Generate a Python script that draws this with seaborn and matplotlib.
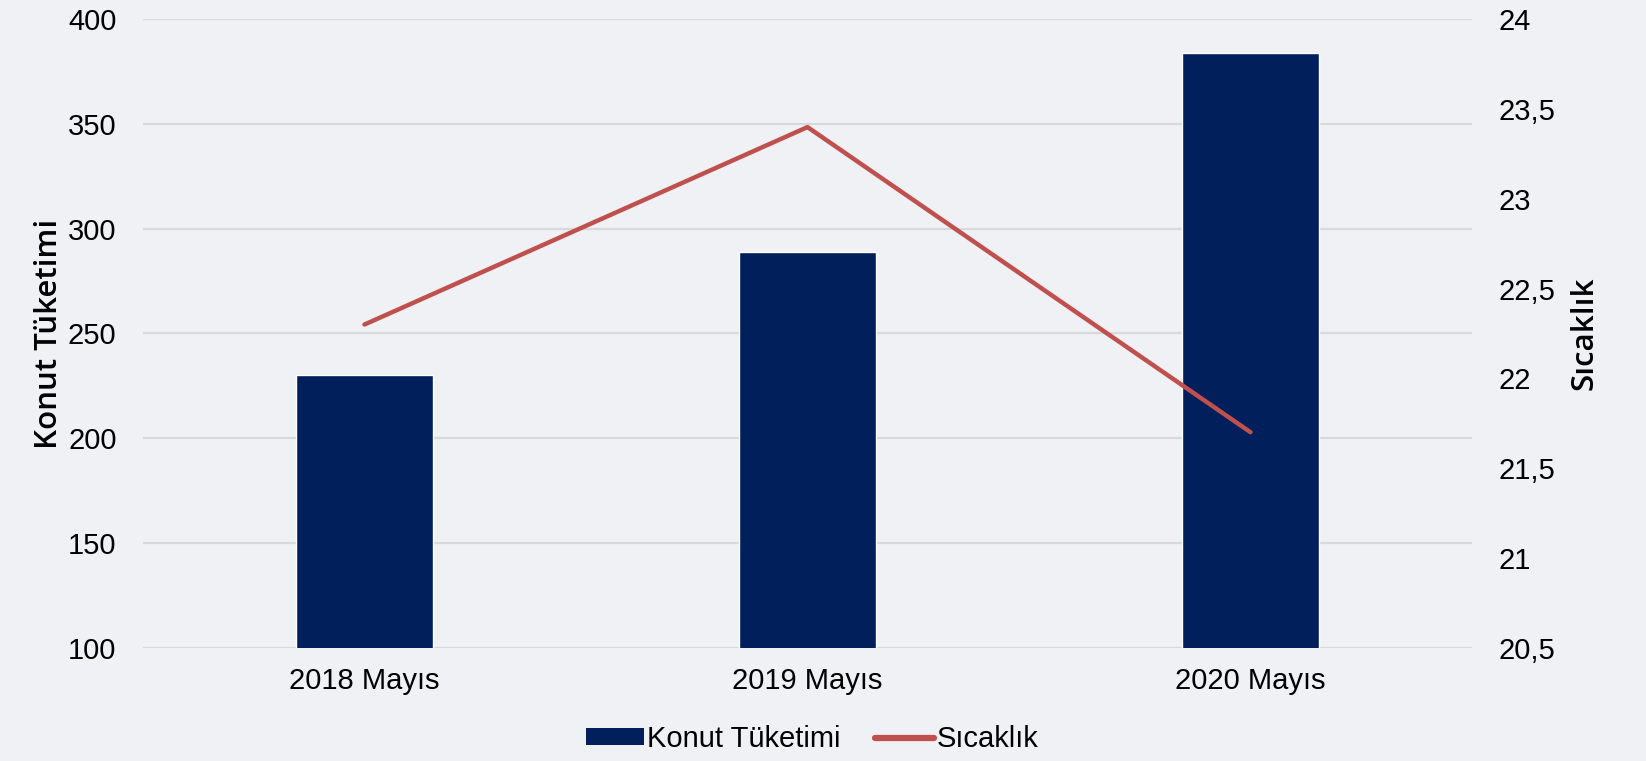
import matplotlib
matplotlib.use("Agg")
import matplotlib.pyplot as plt
import seaborn as sns
import pandas as pd
import numpy as np
from matplotlib.patches import Patch
from matplotlib.lines import Line2D
from matplotlib.ticker import FuncFormatter

categories = ["2018 Mayıs", "2019 Mayıs", "2020 Mayıs"]
konut = [230, 289, 384]
sicaklik = [22.3, 23.4, 21.7]
left_ticks = [100, 150, 200, 250, 300, 350, 400]
right_ticks = [20.5, 21, 21.5, 22, 22.5, 23, 23.5, 24]

BG = "#eff1f5"
BAR = "#001f5b"
LINE = "#c0504d"
GRID = "#d9d9d9"

sns.set_theme(style="white")
plt.rcParams["font.family"] = ["Liberation Sans", "DejaVu Sans"]
plt.rcParams["text.color"] = "#000000"
plt.rcParams["axes.labelcolor"] = "#000000"

df = pd.DataFrame({"cat": categories, "konut": konut, "sicaklik": sicaklik})

fig = plt.figure(figsize=(16.46, 7.61), dpi=100, facecolor=BG)
ax = fig.add_axes([143/1646, 1-647.6/761, (1472-143)/1646, (647.6-19.4)/761])
ax.set_facecolor(BG)

sns.barplot(data=df, x="cat", y="konut", ax=ax, color=BAR, width=0.31,
            saturation=1, zorder=2)
ax.set_ylim(100, 400)
ax.set_yticks(left_ticks)
ax.yaxis.grid(True, color=GRID, linewidth=1.6, zorder=0)
ax.set_axisbelow(True)
for s in ax.spines.values():
    s.set_visible(False)
ax.tick_params(axis="both", length=0, labelsize=21, colors="#000000")
ax.tick_params(axis="y", pad=19)
ax.tick_params(axis="x", pad=14)
ax.set_xlabel("")
ax.set_ylabel("Konut Tüketimi", fontsize=22.5, fontweight="semibold",
              family=["Open Sans", "DejaVu Sans"], labelpad=3, color="#000000")

ax2 = ax.twinx()
x_idx = np.arange(len(categories))
sns.lineplot(x=x_idx, y=df["sicaklik"], ax=ax2, color=LINE, linewidth=3.2,
             solid_capstyle="round", zorder=3)
ax2.set_ylim(20.5, 24)
ax2.set_yticks(right_ticks)
ax2.yaxis.set_major_formatter(FuncFormatter(lambda v, p: (f"{v:g}").replace(".", ",")))
for s in ax2.spines.values():
    s.set_visible(False)
ax2.tick_params(axis="y", length=0, labelsize=21, colors="#000000", pad=19)
ax2.set_ylabel("Sıcaklık", fontsize=22.5, fontweight="semibold",
               family=["Open Sans", "DejaVu Sans"], labelpad=10, color="#000000")
ax.set_xlim(-0.5, 2.5)

handles = [Patch(facecolor=BAR, edgecolor="none"),
           Line2D([0], [0], color=LINE, linewidth=4.5, solid_capstyle="round")]
fig.legend(handles, ["Konut Tüketimi", "Sıcaklık"], loc="center",
           bbox_to_anchor=(812/1646, 1-739/761), ncol=2, frameon=False,
           fontsize=21, handlelength=2.0, handleheight=0.5, handletextpad=0.1,
           columnspacing=1.2, labelcolor="#000000")

fig.savefig("out.png", dpi=100, facecolor=BG)
